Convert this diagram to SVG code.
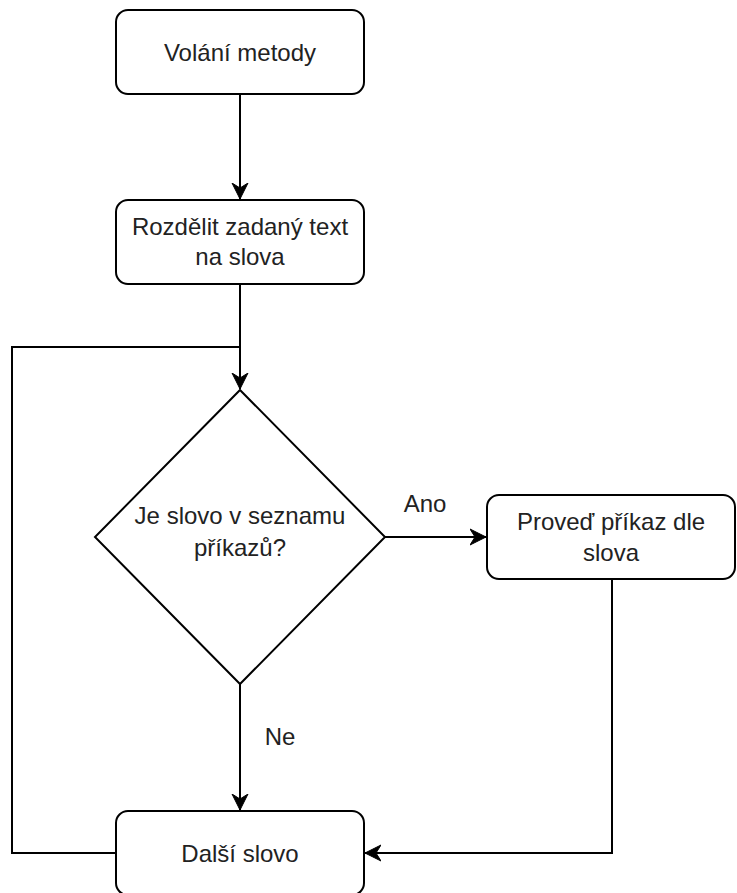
<svg xmlns="http://www.w3.org/2000/svg" width="737" height="893" viewBox="0 0 737 893">
  <style>
    .node { fill: #ffffff; stroke: #000000; stroke-width: 2; }
    .label { font-family: "Liberation Sans", Arial, sans-serif; font-size: 24px; fill: #222222; text-anchor: middle; }
    .edge { fill: none; stroke: #000000; stroke-width: 2; }
  </style>
  <defs>
    <marker id="arrow" markerUnits="userSpaceOnUse" markerWidth="18" markerHeight="18" viewBox="-16 -9 18 18" refX="0" refY="0" orient="auto">
      <path d="M0,0 L-16,-8 L-11,0 L-16,8 Z" fill="#000000" stroke="#000000" stroke-width="1"/>
    </marker>
  </defs>
  <rect width="737" height="893" fill="#ffffff"/>
  <g id="connectors">
    <path class="edge" d="M240,94 L240,199" marker-end="url(#arrow)"/>
    <path class="edge" d="M240,284 L240,389" marker-end="url(#arrow)"/>
    <path class="edge" d="M116,853 L12,853 L12,347 L240,347"/>
    <path class="edge" d="M384,537 L486,537" marker-end="url(#arrow)"/>
    <path class="edge" d="M240,684 L240,810" marker-end="url(#arrow)"/>
    <path class="edge" d="M612,579 L612,853 L365,853" marker-end="url(#arrow)"/>
    <text class="label" x="425" y="512">Ano</text>
    <text class="label" x="280" y="745">Ne</text>
  </g>
  <g id="volani">
    <rect class="node" x="116" y="10" width="248" height="84" rx="12" ry="12"/>
    <text class="label" x="240" y="61">Volání metody</text>
  </g>
  <g id="rozdelit">
    <rect class="node" x="116" y="200" width="248" height="84" rx="12" ry="12"/>
    <text class="label" x="240" y="235">Rozdělit zadaný text</text>
    <text class="label" x="240" y="265">na slova</text>
  </g>
  <g id="decision">
    <polygon class="node" points="240,390 385,537 240,684 95,537"/>
    <text class="label" x="240" y="524">Je slovo v seznamu</text>
    <text class="label" x="240" y="556">příkazů?</text>
  </g>
  <g id="provedprikaz">
    <rect class="node" x="487" y="495" width="248" height="84" rx="12" ry="12"/>
    <text class="label" x="611" y="530">Proveď příkaz dle</text>
    <text class="label" x="611" y="561">slova</text>
  </g>
  <g id="dalsi">
    <rect class="node" x="116" y="811" width="248" height="84" rx="12" ry="12"/>
    <text class="label" x="240" y="862">Další slovo</text>
  </g>
</svg>
